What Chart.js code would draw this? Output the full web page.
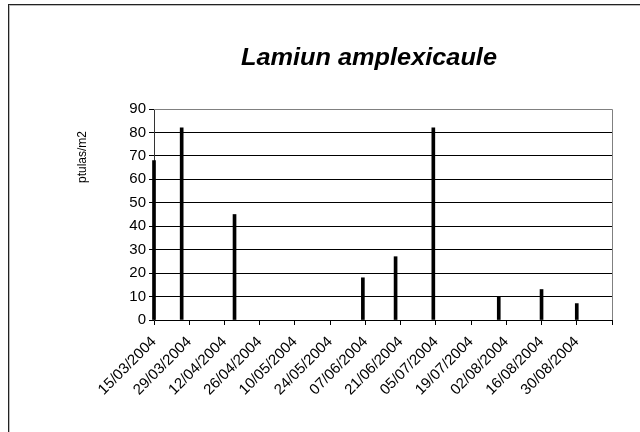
<!DOCTYPE html>
<html>
<head>
<meta charset="utf-8">
<script src="https://cdn.jsdelivr.net/npm/chart.js@4/dist/chart.umd.min.js"></script>
<style>
  html, body { margin: 0; padding: 0; background: #fff; }
  #wrap { position: relative; width: 640px; height: 432px; overflow: hidden; }
  #frame { position: absolute; left: 8px; top: 4px; width: 700px; height: 500px; border: 1px solid #222; box-shadow: inset 1px 1px 0 #bbb; }
  canvas { position: absolute; left: 0; top: 0; }
</style>
</head>
<body>
<div id="wrap">
  <div id="frame"></div>
  <canvas id="chart" width="640" height="432"></canvas>
</div>
<script>
// sampling dates and seedling counts (plántulas/m2)
const sampleDates = ["15/03/2004", "26/03/2004", "16/04/2004", "06/06/2004", "19/06/2004",
                     "04/07/2004", "30/07/2004", "16/08/2004", "30/08/2004"]
const seedlings   = [68, 82, 45, 18, 27, 82, 10, 13, 7]

// date axis: every 14 days from 15/03 to 13/09 (last tick unlabeled)
const axisStart  = "15/03/2004"
const axisEnd    = "13/09/2004"
const tickLabels = ["15/03/2004", "29/03/2004", "12/04/2004", "26/04/2004", "10/05/2004",
                    "24/05/2004", "07/06/2004", "21/06/2004", "05/07/2004", "19/07/2004",
                    "02/08/2004", "16/08/2004", "30/08/2004"]

const chartTitle = "Lamiun amplexicaule"
const yTitle     = "ptulas/m2"

const FONT = "'Liberation Sans', Arial, sans-serif"

const toDay = (s) => {
  const [d, m, y] = s.split("/").map(Number)
  const [d0, m0, y0] = axisStart.split("/").map(Number)
  return Math.round((Date.UTC(y, m - 1, d) - Date.UTC(y0, m0 - 1, d0)) / 86_400_000)
}

const points = sampleDates.map((d, i) => ({ x: toDay(d), y: seedlings[i] }))

// grey top/right plot border, plus title and y-axis title at the Excel-like spots
const framePlugin = {
  id: "framePlugin",
  afterDraw(chart) {
    const { ctx, chartArea: a } = chart
    ctx.save()
    ctx.strokeStyle = "#808080"
    ctx.lineWidth = 1
    ctx.beginPath()
    ctx.moveTo(a.left, a.top + 0.5)
    ctx.lineTo(a.right + 0.5, a.top + 0.5)
    ctx.lineTo(a.right + 0.5, a.bottom)
    ctx.stroke()

    ctx.fillStyle = "#000"
    ctx.textAlign = "center"
    ctx.save()
    ctx.translate(369, 65)
    ctx.scale(1.1, 1)
    ctx.font = "italic bold 23px " + FONT
    ctx.textBaseline = "alphabetic"
    ctx.fillText(chartTitle, 0, 0)
    ctx.restore()

    ctx.translate(83, 157)
    ctx.rotate(-Math.PI / 2)
    ctx.font = "12px " + FONT
    ctx.textBaseline = "middle"
    ctx.fillText(yTitle, 0, 0)
    ctx.restore()
  },
}

new Chart(document.getElementById("chart"), {
  type: "bar",
  data: {
    datasets: [{
      data: points,
      backgroundColor: "#000",
      barThickness: 3,
      clip: false,
    }],
  },
  options: {
    responsive: false,
    animation: false,
    layout: { padding: { top: 109, right: 28, left: 0, bottom: 0 } },
    plugins: { legend: { display: false }, tooltip: { enabled: false } },
    scales: {
      x: {
        type: "linear",
        offset: false,
        min: 0,
        max: toDay(axisEnd),
        afterFit: (s) => { s.height = 112 },
        border: { color: "#000", width: 1 },
        grid: { offset: false, drawOnChartArea: false, tickLength: 5, color: "#000" },
        ticks: {
          stepSize: 14,
          autoSkip: false,
          maxRotation: 45,
          minRotation: 45,
          padding: 8,
          color: "#000",
          font: { family: FONT, size: 15 },
          callback: (v, i) => tickLabels[i] ?? "",
        },
      },
      y: {
        min: 0,
        max: 90,
        afterFit: (s) => { s.width = 154 },
        border: { color: "#333", width: 1 },
        grid: { color: "#000", tickLength: 5 },
        ticks: {
          stepSize: 10,
          padding: 3,
          color: "#000",
          font: { family: FONT, size: 15 },
        },
      },
    },
  },
  plugins: [framePlugin],
})
</script>
</body>
</html>
